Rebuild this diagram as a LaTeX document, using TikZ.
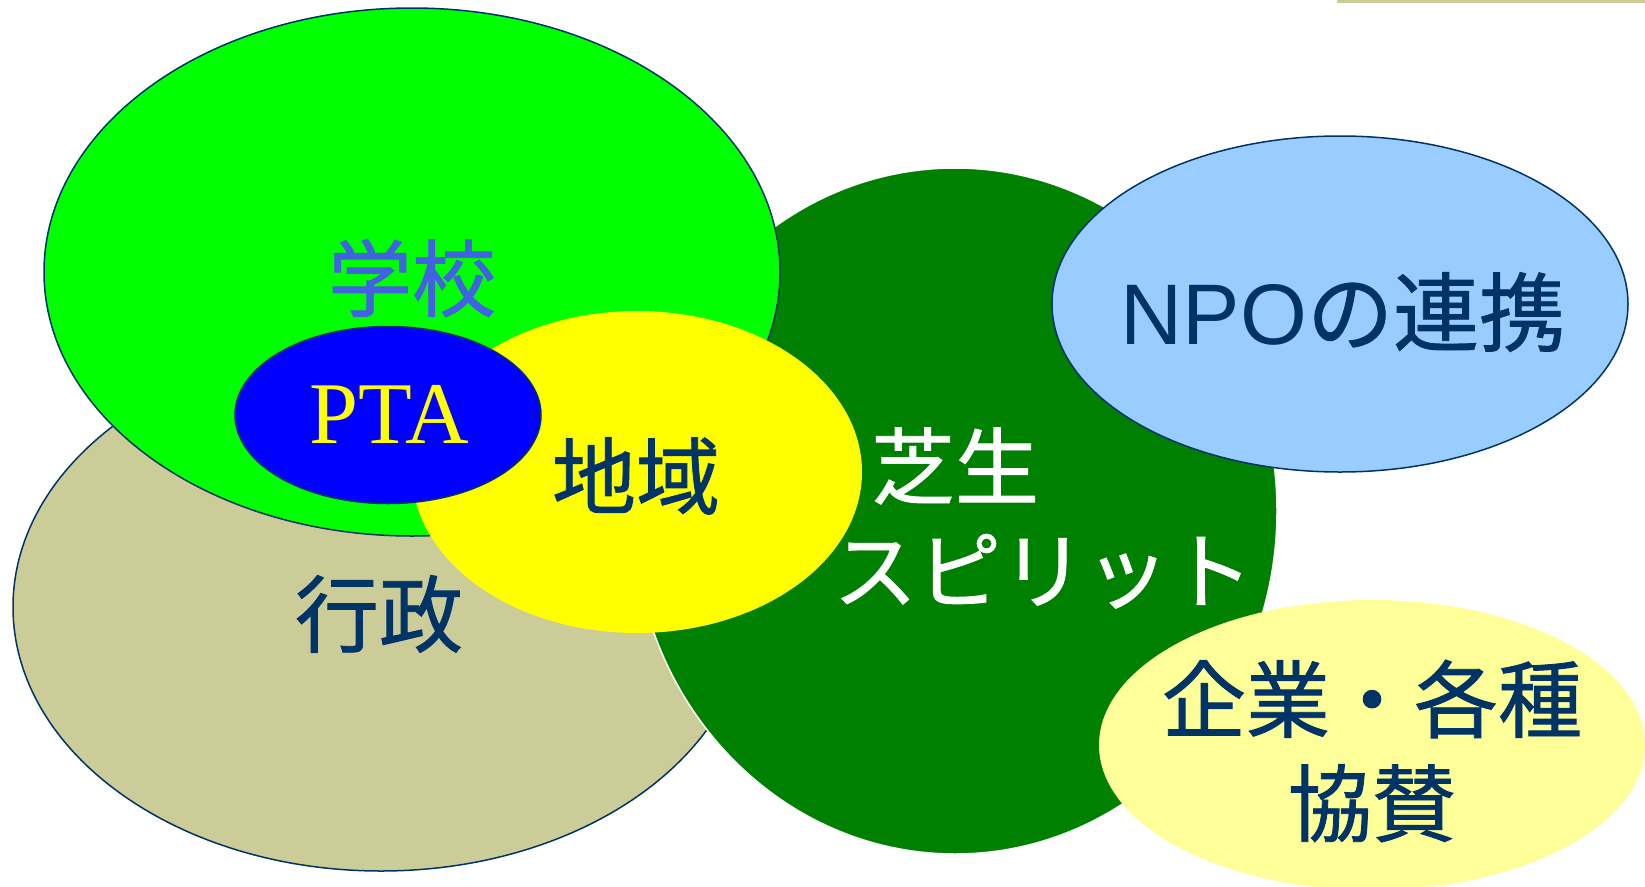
\documentclass[tikz,border=0pt]{standalone}
\usepackage{fontspec}
\setmainfont{Noto Sans CJK JP}[FakeBold=1]
\newfontfamily\npofont{Liberation Sans}
\newfontfamily\ptafont{Liberation Serif}
\usetikzlibrary{shapes.geometric}

\definecolor{navy}{RGB}{0,51,102}
\definecolor{khaki}{RGB}{204,204,153}
\definecolor{leaf}{RGB}{0,255,0}
\definecolor{lawn}{RGB}{0,128,0}
\definecolor{sky}{RGB}{153,204,255}
\definecolor{cream}{RGB}{255,255,153}
\definecolor{royal}{RGB}{65,98,225}
\definecolor{lemon}{RGB}{255,255,0}
\definecolor{ptablue}{RGB}{0,0,255}

\tikzset{
  blob/.style={ellipse, inner sep=0pt, line width=1.5pt},
  word/.style={font=\fontsize{84}{104}\selectfont, inner sep=0pt, text=navy},
}

\begin{document}
\begin{tikzpicture}[x=1pt,y=-1pt]
	\useasboundingbox (0,0) rectangle (1645,886);
	\fill[khaki] (1337,0) rectangle (1645,3);
	
	% circles, back to front
	\node[blob, draw=navy, fill=khaki, minimum width=736pt, minimum height=528pt] (gyosei) at (381,607) {};
	\node[blob, draw=white, fill=lawn, minimum width=644pt, minimum height=686pt] (shiba) at (955,511) {};
	\node[blob, draw=navy, fill=leaf, minimum width=736pt, minimum height=528pt] (gakko) at (412,272) {};
	\node[blob, fill=lemon, minimum width=450pt, minimum height=322pt] (chiiki) at (637,472) {};
	\node[blob, draw=navy, fill=ptablue, minimum width=306pt, minimum height=177pt] (pta) at (388,415) {};
	\node[blob, draw=navy, fill=sky, minimum width=576pt, minimum height=336pt] (npo) at (1340,304) {};
	\node[blob, fill=cream, minimum width=546pt, minimum height=290pt] (kigyo) at (1372,745) {};
	
	% texts
	\node[word, text=royal] (gakkotext) at (412,278) {学校};
	\node[word, text=lemon, font=\fontsize{88}{104}\ptafont] (ptatext) at (389,414) {PTA};
	\node[word] (chiikitext) at (636,476) {地域};
	\node[word] (gyoseitext) at (379,614) {行政};
	\node[word, text=white, align=left, anchor=west] (shibatext) at (833,518) {\hspace*{0.45em}芝生\\スピリット};
	\node[word, font=\fontsize{86}{104}\selectfont] (npotext) at (1343,312) {{\npofont NPO}の連携};
	\node[word, align=center] (kigyotext) at (1372,751) {企業・各種\\協賛};
\end{tikzpicture}
\end{document}
